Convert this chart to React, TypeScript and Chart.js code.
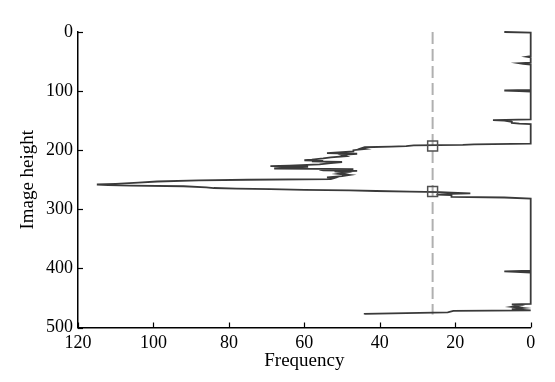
import React, { useEffect, useRef } from "react";
import { Chart, registerables } from "chart.js";

Chart.register(...registerables);

// Profile: image row (y) and frequency (x)
const profileRows = [
  0, 1, 41, 42, 43, 52, 53, 54, 55, 98, 99, 100, 101, 148, 149, 150, 152, 154, 155, 156,
  189, 190, 191, 192, 193, 194, 195, 197, 198, 200, 202, 204, 205, 206, 208, 210, 212, 214,
  216, 217, 218, 219, 220, 222, 224, 226, 227, 228, 229, 231, 232, 233, 234, 235, 236, 238,
  240, 242, 244, 246, 247, 249, 250, 251, 253, 255, 257, 258, 259, 260, 261, 263, 264, 265,
  266, 267, 268, 269, 270, 271, 272, 273, 274, 275, 276, 279, 280, 282, 404, 405, 406, 407,
  460, 461, 463, 465, 467, 469, 470, 471, 472, 474.5, 477, 478,
];
const profileFreq = [
  7, 0, 0, 1, 0, 0, 3, 2, 0, 0, 7, 3, 0, 0, 10, 7, 5, 5, 3, 0,
  0, 15, 18, 31, 33, 37, 44, 45, 44, 47, 47, 52, 54, 46, 50, 49, 53, 55,
  58, 60, 55, 58, 50, 53, 56, 64, 69, 59, 62, 68, 47, 56, 55, 46, 52, 49,
  51, 48, 50, 54, 52, 53, 75, 88, 99, 104, 110, 115, 112, 106, 92, 86, 84, 78,
  69, 60, 48, 41, 32, 24, 21, 16, 21, 25, 21, 21, 7, 0, 0, 7, 4, 0,
  0, 5, 3, 5, 2, 5, 3, 0, 20.5, 22, 44, 44,
];

// Threshold line and the two crossing points
const thresholdFreq = 26;
const thresholdRows = [0, 478];
const markerRows = [193, 270];

const xTicks = [0, 20, 40, 60, 80, 100, 120];
const yTicks = [0, 100, 200, 300, 400, 500];

const FONT = "'Liberation Serif', 'Times New Roman', serif";

const inwardTicks = {
  id: "inwardTicks",
  afterDatasetsDraw(chart: any) {
    const { ctx, chartArea } = chart;
    const xs = chart.scales.x;
    const ys = chart.scales.y;
    ctx.save();
    ctx.strokeStyle = "#000";
    ctx.lineWidth = 1.2;
    xs.ticks.forEach((t: any) => {
      const px = Math.round(xs.getPixelForValue(t.value)) + 0.5;
      ctx.beginPath();
      ctx.moveTo(px, chartArea.bottom);
      ctx.lineTo(px, chartArea.bottom - 5);
      ctx.stroke();
    });
    ys.ticks.forEach((t: any) => {
      const py = Math.round(ys.getPixelForValue(t.value)) + 0.5;
      ctx.beginPath();
      ctx.moveTo(chartArea.left, py);
      ctx.lineTo(chartArea.left + 5, py);
      ctx.stroke();
    });
    ctx.restore();
  },
};

export default function App() {
  const ref = useRef<HTMLCanvasElement | null>(null);

  useEffect(() => {
    if (!ref.current) return;
    const profile = profileRows.map((r, i) => ({ x: profileFreq[i], y: r }));
    const dashed = thresholdRows.map((r) => ({ x: thresholdFreq, y: r }));
    const markers = markerRows.map((r) => ({ x: thresholdFreq, y: r }));

    const chart = new Chart(ref.current, {
      type: "scatter",
      data: {
        datasets: [
          {
            data: markers,
            showLine: false,
            pointStyle: "rect",
            pointRadius: 7,
            pointHoverRadius: 7,
            borderColor: "#505050",
            backgroundColor: "rgba(0,0,0,0)",
            borderWidth: 1.5,
          },
          {
            data: profile,
            showLine: true,
            pointRadius: 0,
            borderColor: "#3a3a3a",
            borderWidth: 1.8,
            tension: 0,
            clip: 4,
          },
          {
            data: dashed,
            showLine: true,
            pointRadius: 0,
            borderColor: "#b0b0b0",
            borderWidth: 2,
            borderDash: [12, 5],
          },
        ],
      },
      options: {
        animation: false,
        responsive: false,
        events: [],
        layout: { padding: { top: 32, right: 24.3, left: 0, bottom: 0 } },
        plugins: { legend: { display: false }, tooltip: { enabled: false } },
        scales: {
          x: {
            type: "linear",
            reverse: true,
            min: 0,
            max: 120,
            afterBuildTicks: (s: any) => {
              s.ticks = xTicks.map((v) => ({ value: v }));
            },
            afterFit: (s: any) => {
              s.height = 54.5;
            },
            grid: { display: false, drawTicks: false },
            border: { display: true, color: "#000", width: 1.5 },
            ticks: {
              color: "#000",
              padding: 5,
              maxRotation: 0,
              font: { family: FONT, size: 18 },
            },
            title: {
              display: true,
              text: "Frequency",
              color: "#000",
              padding: { top: 0, bottom: 10 },
              font: { family: FONT, size: 19 },
            },
          },
          y: {
            type: "linear",
            reverse: true,
            min: 0,
            max: 500,
            afterBuildTicks: (s: any) => {
              s.ticks = yTicks.map((v) => ({ value: v }));
            },
            afterFit: (s: any) => {
              s.width = 78;
            },
            grid: { display: false, drawTicks: false },
            border: { display: true, color: "#000", width: 1.5 },
            ticks: {
              color: "#000",
              padding: 5,
              font: { family: FONT, size: 18 },
            },
            title: {
              display: true,
              text: "Image height",
              color: "#000",
              padding: { top: 17, bottom: 0 },
              font: { family: FONT, size: 19 },
            },
          },
        },
      },
      plugins: [inwardTicks],
    });
    return () => chart.destroy();
  }, []);

  return (
    <div style={{ position: "absolute", left: 0, top: 0, width: 555, height: 382, background: "#fff" }}>
      <canvas ref={ref} width={555} height={382} />
    </div>
  );
}
